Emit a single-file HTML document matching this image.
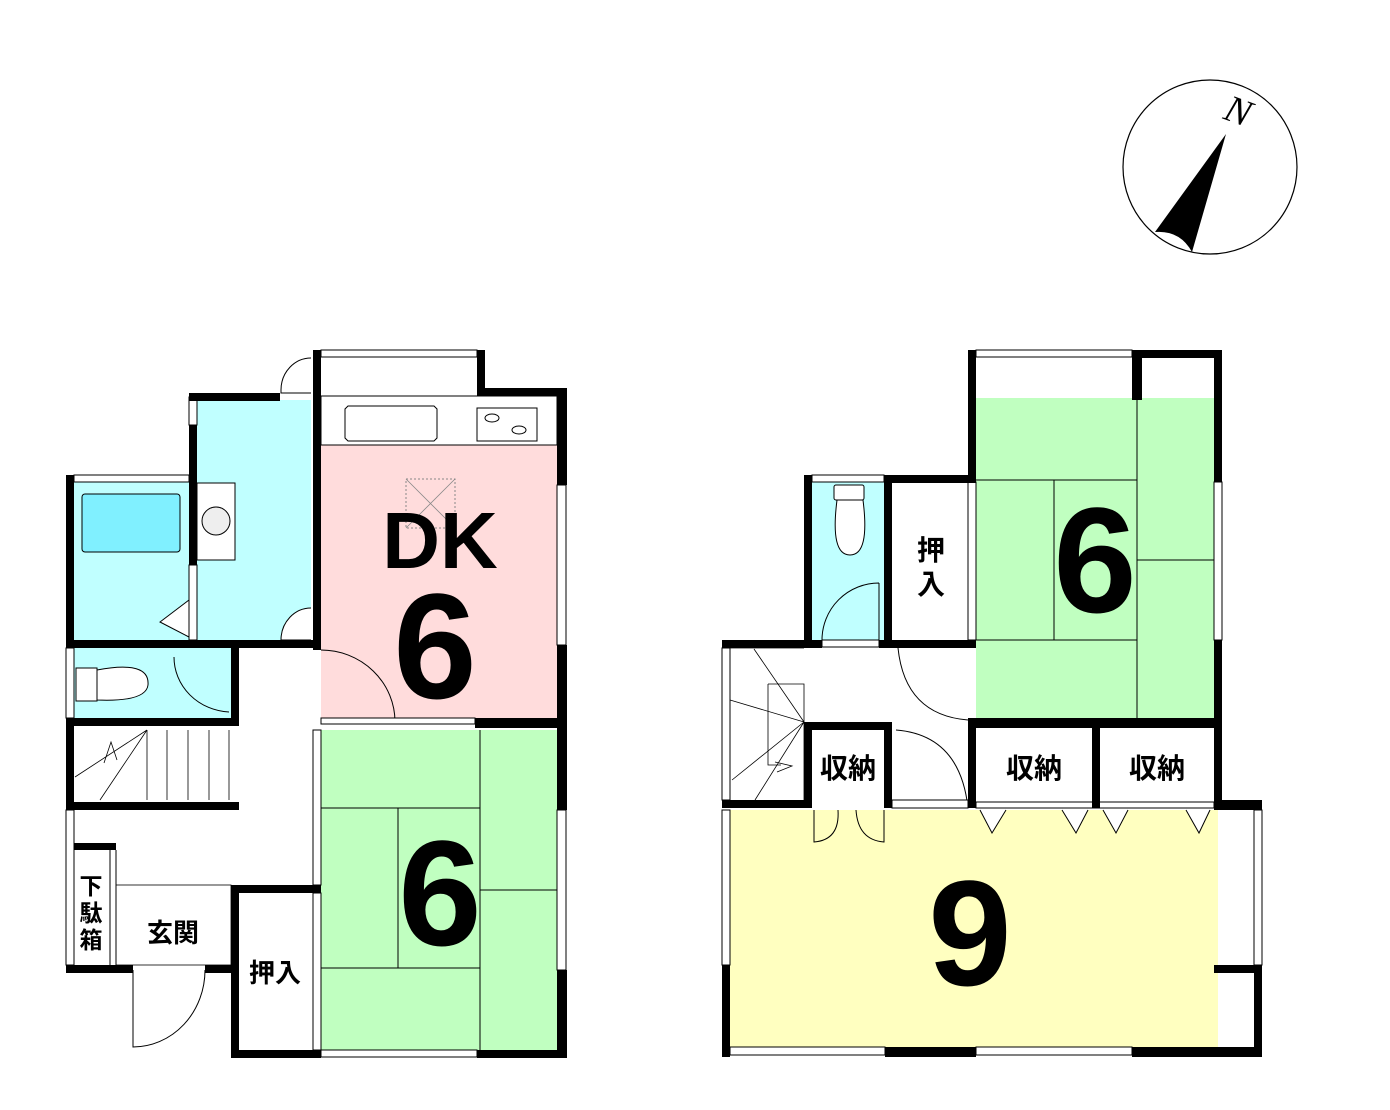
<!DOCTYPE html>
<html><head><meta charset="utf-8"><style>
html,body{margin:0;padding:0;background:#fff;}
svg{display:block;}
.j{font-family:"Liberation Sans","Noto Sans CJK JP",sans-serif;font-weight:bold;}
.n{font-family:"Liberation Sans",sans-serif;font-weight:bold;}
</style></head><body>
<svg width="1390" height="1110" viewBox="0 0 1390 1110" xmlns="http://www.w3.org/2000/svg">
<!-- compass -->
<circle cx="1210" cy="167" r="87" fill="none" stroke="#000" stroke-width="1.2"/>
<path d="M1226,134 L1155,232 Q1180,230 1192,252 Z" fill="#000"/>
<text x="1226" y="124" font-family="Liberation Serif,serif" font-style="italic" font-size="38" transform="rotate(20 1240 110)">N</text>

<!-- ===== LEFT (1F) ===== -->
<rect x="197" y="400" width="114" height="242" fill="#c0ffff"/>
<rect x="74" y="475" width="115" height="167" fill="#c0ffff"/>
<rect x="74" y="648" width="157" height="70" fill="#c0ffff"/>
<rect x="321" y="445" width="236" height="275" fill="#ffdcdc"/>
<rect x="321" y="730" width="236" height="320" fill="#c0ffc0"/>
<rect x="321" y="396" width="236" height="49" fill="#fff" stroke="#000" stroke-width="1"/>
<path d="M348,406 H434 L437,409 V438 L434,441 H348 L345,438 V409 Z" fill="#fff" stroke="#000"/>
<rect x="477" y="408" width="60" height="33" fill="#fff" stroke="#000"/>
<ellipse cx="492" cy="418" rx="7" ry="4" fill="none" stroke="#000"/>
<ellipse cx="519" cy="430" rx="7" ry="4" fill="none" stroke="#000"/>
<rect x="406" y="479" width="49" height="49" fill="none" stroke="#888" stroke-dasharray="2,2"/>
<path d="M406,479 L455,528 M455,479 L406,528" stroke="#888" stroke-width="0.8"/>
<rect x="82" y="494" width="98" height="58" rx="3" fill="#80f0ff" stroke="#000"/>
<rect x="197" y="483" width="38" height="77" fill="#fff" stroke="#000"/>
<circle cx="216" cy="521" r="14" fill="#eee" stroke="#000"/>
<path d="M189,600 L160,622 L189,637" fill="#fff" stroke="#000"/>
<rect x="76" y="668" width="21" height="33" fill="#fff" stroke="#000"/>
<path d="M97,670 Q150,660 148,685 Q146,702 97,700 Z" fill="#fff" stroke="#000"/>
<path d="M174,657 A58,55 0 0 0 229,712" fill="none" stroke="#000"/>
<g stroke="#000" stroke-width="0.8" fill="none">
<path d="M147,730 V800 M167,730 V800 M188,730 V800 M209,730 V800 M229,730 V800"/>
<path d="M75,777 L147,730 M100,800 L147,730 M104,763 L111,742 L117,760"/>
</g>
<rect x="116" y="885" width="115" height="80" fill="#fff" stroke="#000" stroke-width="0.8"/>
<path d="M110,850 V965 M116,850 V965" stroke="#000"/>
<path d="M133,970 V1047 A72,77 0 0 0 205,970" fill="none" stroke="#000"/>
<path d="M321,650 A74,72 0 0 1 395,722" fill="none" stroke="#000"/>
<path d="M311,608 A30,32 0 0 0 281,640 H311" fill="#fff" stroke="#000"/>
<path d="M311,358 A30,32 0 0 0 281,390 V393 H311" fill="#fff" stroke="#000"/>
<g stroke="#000" stroke-width="1" fill="none">
<path d="M480,730 V1050 M321,808 H480 M398,808 V968 M321,968 H480 M480,890 H557"/>
</g>
<g fill="#fff" stroke="#000" stroke-width="1">
<rect x="321" y="350" width="156" height="7"/>
<rect x="321" y="1050" width="156" height="7"/>
<rect x="557" y="485" width="9" height="160"/>
<rect x="557" y="810" width="9" height="160"/>
<rect x="313" y="730" width="8" height="155"/>
<rect x="313" y="893" width="8" height="157"/>
<rect x="74" y="475" width="115" height="7"/>
<rect x="66" y="648" width="8" height="70"/>
<rect x="66" y="810" width="8" height="155"/>
<rect x="189" y="397" width="8" height="28"/>
<rect x="189" y="565" width="8" height="75"/>
<rect x="321" y="718" width="154" height="6"/>
</g>
<g fill="#000">
<rect x="313" y="350" width="8" height="300"/>
<rect x="477" y="350" width="8" height="46"/>
<rect x="477" y="388" width="90" height="8"/>
<rect x="557" y="388" width="10" height="97"/>
<rect x="557" y="645" width="10" height="165"/>
<rect x="557" y="970" width="10" height="88"/>
<rect x="189" y="393" width="91" height="8"/>
<rect x="189" y="425" width="8" height="140"/>
<rect x="66" y="475" width="8" height="173"/>
<rect x="66" y="640" width="247" height="8"/>
<rect x="231" y="648" width="8" height="78"/>
<rect x="66" y="718" width="173" height="8"/>
<rect x="66" y="718" width="8" height="92"/>
<rect x="66" y="802" width="173" height="8"/>
<rect x="74" y="843" width="42" height="7"/>
<rect x="66" y="965" width="67" height="8"/>
<rect x="205" y="965" width="34" height="8"/>
<rect x="231" y="885" width="90" height="8"/>
<rect x="231" y="885" width="8" height="173"/>
<rect x="231" y="1050" width="90" height="8"/>
<rect x="477" y="1050" width="90" height="8"/>
<rect x="475" y="718" width="92" height="10"/>
</g>
<text x="440" y="568" class="n" font-size="80" text-anchor="middle">DK</text>
<text x="435" y="698" class="n" font-size="150" text-anchor="middle">6</text>
<text x="440" y="945" class="n" font-size="150" text-anchor="middle">6</text>
<text x="173" y="942" class="j" font-size="26" text-anchor="middle">玄関</text>
<text x="275" y="982" class="j" font-size="26" text-anchor="middle">押入</text>
<text x="91" y="894" class="j" font-size="23" text-anchor="middle">下</text>
<text x="91" y="921" class="j" font-size="23" text-anchor="middle">駄</text>
<text x="91" y="948" class="j" font-size="23" text-anchor="middle">箱</text>

<!-- ===== RIGHT (2F) ===== -->
<rect x="976" y="398" width="238" height="320" fill="#c0ffc0"/>
<rect x="812" y="482" width="72" height="158" fill="#c0ffff"/>
<rect x="730" y="810" width="488" height="237" fill="#ffffc0"/>
<g stroke="#000" stroke-width="1" fill="none">
<path d="M1137,398 V718 M976,480 H1137 M1054,480 V640 M976,640 H1137 M1137,560 H1214"/>
</g>
<rect x="834" y="485" width="30" height="15" rx="2" fill="#fff" stroke="#000"/>
<path d="M837,500 Q830,555 850,555 Q870,555 863,500 Z" fill="#fff" stroke="#000"/>
<path d="M879,583 V640 M822,640 A57,57 0 0 1 879,583" fill="none" stroke="#000"/>
<rect x="822" y="640" width="57" height="7" fill="#fff" stroke="#000"/>
<path d="M898,648 Q905,715 968,720" fill="none" stroke="#000"/>
<path d="M896,730 Q960,735 968,808" fill="none" stroke="#000"/>
<g stroke="#000" stroke-width="0.8" fill="none">
<path d="M730,648 H804 M768,684 H804 V800 M768,684 V765 H781"/>
<path d="M754,649 L804,722 M730,700 L804,722 M732,780 L804,722 M755,800 L804,722 M775,762 L792,766 L777,772"/>
</g>
<g fill="#fff" stroke="#000" stroke-width="1">
<path d="M980,810 L992,833 L1006,810"/>
<path d="M1062,810 L1076,833 L1088,810"/>
<path d="M1103,810 L1116,833 L1128,810"/>
<path d="M1186,810 L1199,833 L1210,810"/>
<path d="M814,810 V842 Q840,840 838,810" fill="none"/>
<path d="M884,810 V842 Q858,840 856,810" fill="none"/>
</g>
<g fill="#fff" stroke="#000" stroke-width="1">
<rect x="976" y="350" width="156" height="7"/>
<rect x="812" y="475" width="72" height="7"/>
<rect x="968" y="482" width="8" height="158"/>
<rect x="1214" y="482" width="8" height="158"/>
<rect x="722" y="648" width="8" height="152"/>
<rect x="722" y="810" width="8" height="155"/>
<rect x="1254" y="810" width="8" height="155"/>
<rect x="730" y="1047" width="155" height="8"/>
<rect x="976" y="1047" width="156" height="8"/>
<rect x="892" y="800" width="76" height="8"/>
<rect x="976" y="802" width="238" height="6"/>
</g>
<g fill="#000">
<rect x="968" y="350" width="8" height="132"/>
<rect x="1132" y="350" width="90" height="8"/>
<rect x="1132" y="350" width="10" height="50"/>
<rect x="1214" y="350" width="8" height="132"/>
<rect x="1214" y="640" width="8" height="170"/>
<rect x="804" y="475" width="8" height="173"/>
<rect x="884" y="475" width="8" height="173"/>
<rect x="884" y="475" width="92" height="8"/>
<rect x="722" y="640" width="100" height="8"/>
<rect x="879" y="640" width="97" height="8"/>
<rect x="968" y="718" width="254" height="10"/>
<rect x="968" y="718" width="8" height="90"/>
<rect x="804" y="722" width="88" height="8"/>
<rect x="804" y="722" width="8" height="86"/>
<rect x="884" y="722" width="8" height="86"/>
<rect x="1092" y="726" width="8" height="82"/>
<rect x="722" y="800" width="90" height="8"/>
<rect x="1214" y="800" width="48" height="10"/>
<rect x="722" y="965" width="8" height="92"/>
<rect x="1254" y="965" width="8" height="92"/>
<rect x="1214" y="965" width="48" height="8"/>
<rect x="885" y="1047" width="91" height="10"/>
<rect x="1132" y="1047" width="130" height="10"/>
</g>
<text x="1095" y="612" class="n" font-size="150" text-anchor="middle">6</text>
<text x="970" y="985" class="n" font-size="150" text-anchor="middle">9</text>
<text x="931" y="560" class="j" font-size="28" text-anchor="middle">押</text>
<text x="931" y="594" class="j" font-size="28" text-anchor="middle">入</text>
<text x="848" y="778" class="j" font-size="28" text-anchor="middle">収納</text>
<text x="1034" y="778" class="j" font-size="28" text-anchor="middle">収納</text>
<text x="1157" y="778" class="j" font-size="28" text-anchor="middle">収納</text>
</svg>
</body></html>
